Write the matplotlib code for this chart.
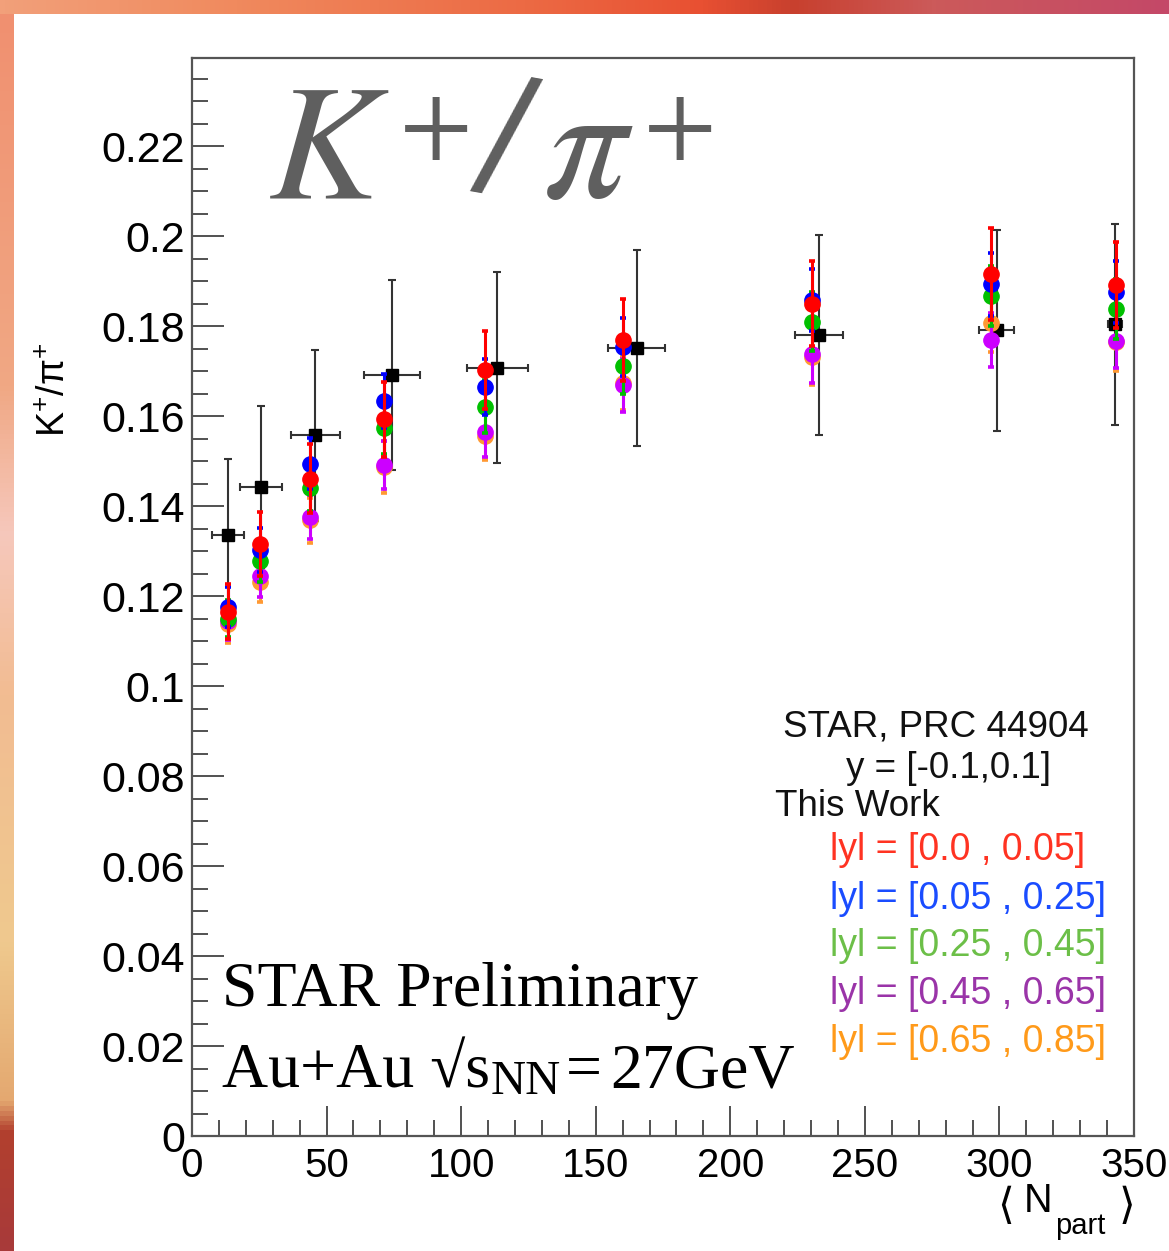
import numpy as np
import matplotlib
matplotlib.use("Agg")
import matplotlib.pyplot as plt
from matplotlib.colors import LinearSegmentedColormap
from matplotlib.ticker import MultipleLocator, FuncFormatter

# ---- STAR published K+/pi+ (|y| < 0.1) ----
star_npart = [13.5, 25.8, 45.8, 74.3, 113.5, 165.2, 233.0, 299.0, 343.0]
star_ratio = [0.1336, 0.1442, 0.1557, 0.1691, 0.1708, 0.1751, 0.1780, 0.1791, 0.1804]
star_yerr = [0.0168, 0.0180, 0.0190, 0.0211, 0.0213, 0.0218, 0.0222, 0.0223, 0.0224]
star_xerr = [5.9, 7.8, 9.2, 10.4, 11.4, 10.7, 8.9, 6.5, 2.5]

# ---- This work: rapidity bins ----
work_npart = [13.5, 25.3, 44.0, 71.3, 109.0, 160.3, 230.2, 297.0, 343.4]

y000_005 = [0.1165, 0.1316, 0.1461, 0.1593, 0.1702, 0.1770, 0.1850, 0.1916, 0.1891]
y000_005_err = [0.0061, 0.0071, 0.0077, 0.0083, 0.0087, 0.0091, 0.0094, 0.0103, 0.0096]

y005_025 = [0.1176, 0.1302, 0.1494, 0.1633, 0.1664, 0.1754, 0.1858, 0.1893, 0.1876]
y005_025_err = [0.0044, 0.0049, 0.0057, 0.0060, 0.0062, 0.0065, 0.0069, 0.0070, 0.0068]

y025_045 = [0.1150, 0.1278, 0.1441, 0.1573, 0.1621, 0.1712, 0.1810, 0.1867, 0.1838]
y025_045_err = [0.0042, 0.0046, 0.0052, 0.0057, 0.0059, 0.0062, 0.0065, 0.0067, 0.0066]

y045_065 = [0.1144, 0.1244, 0.1376, 0.1491, 0.1565, 0.1669, 0.1738, 0.1770, 0.1768]
y045_065_err = [0.0042, 0.0046, 0.0049, 0.0053, 0.0055, 0.0059, 0.0065, 0.0060, 0.0060]

y065_085 = [0.1138, 0.1232, 0.1369, 0.1487, 0.1556, 0.1673, 0.1732, 0.1807, 0.1765]
y065_085_err = [0.0042, 0.0045, 0.0050, 0.0057, 0.0054, 0.0060, 0.0063, 0.0064, 0.0064]

bin_labels = ["lyl = [0.0 , 0.05]", "lyl = [0.05 , 0.25]", "lyl = [0.25 , 0.45]",
              "lyl = [0.45 , 0.65]", "lyl = [0.65 , 0.85]"]

plt.rcParams["font.family"] = ["Liberation Sans", "DejaVu Sans"]
plt.rcParams["mathtext.rm"] = "Liberation Sans"
plt.rcParams["mathtext.it"] = "Liberation Sans:italic"
plt.rcParams["mathtext.bf"] = "Liberation Sans:bold"

W, H = 1169, 1251
fig = plt.figure(figsize=(W / 100, H / 100), dpi=100)

# ---- painted border behind the white panel ----
bg = fig.add_axes([0, 0, 1, 1], zorder=-10)
bg.set_xlim(0, W)
bg.set_ylim(H, 0)
bg.axis("off")
top_cmap = LinearSegmentedColormap.from_list("top", [
    (0.00, "#f2a07a"), (0.20, "#f08a5e"), (0.45, "#ec6a44"),
    (0.60, "#e85032"), (0.68, "#c8402e"), (0.80, "#cc5a5a"), (1.00, "#c44868")])
left_cmap = LinearSegmentedColormap.from_list("left", [
    (0.00, "#f09070"), (0.30, "#f0a884"), (0.42, "#f6c8bc"), (0.55, "#f2bc92"),
    (0.75, "#efc98e"), (0.88, "#e4a870"), (0.905, "#b2402e"), (1.00, "#a83a3a")])
bg.imshow(np.linspace(0, 1, 256)[None, :], cmap=top_cmap, aspect="auto",
          extent=(0, W, 14, 0))
bg.imshow(np.linspace(0, 1, 256)[:, None], cmap=left_cmap, aspect="auto",
          extent=(0, 14, H, 14))
bg.add_patch(plt.Rectangle((14, 14), W - 14, H - 14, facecolor="white", edgecolor="none"))

# ---- main frame ----
x0, x1, yt, yb = 192, 1134, 58, 1136
ax = fig.add_axes([x0 / W, 1 - yb / H, (x1 - x0) / W, (yb - yt) / H])
ax.set_xlim(0, 350)
ax.set_ylim(0, 0.2396)
for s in ax.spines.values():
    s.set_color("#555555")
    s.set_linewidth(1.6)

ax.xaxis.set_major_locator(MultipleLocator(50))
ax.xaxis.set_minor_locator(MultipleLocator(10))
ax.yaxis.set_major_locator(MultipleLocator(0.02))
ax.yaxis.set_minor_locator(MultipleLocator(0.005))
ax.yaxis.set_major_formatter(FuncFormatter(lambda v, p: f"{v:g}"))
ax.tick_params(axis="both", which="both", direction="in", color="#222222", width=1.1,
               top=False, right=False)
ax.tick_params(axis="y", which="major", length=23, labelsize=31, pad=5)
ax.tick_params(axis="y", which="minor", length=11.5)
ax.tick_params(axis="x", which="major", length=21.5, labelsize=29, pad=8)
ax.tick_params(axis="x", which="minor", length=11.5)

# STAR reference points
ax.errorbar(star_npart, star_ratio, xerr=star_xerr, yerr=star_yerr, fmt="s", ms=8,
            color="black", ecolor="#333333", elinewidth=1.5, capsize=2.8, capthick=1.5,
            zorder=2)

series = [
    (y065_085, y065_085_err, "#ff9933", 3),
    (y045_065, y045_065_err, "#cc00ff", 4),
    (y025_045, y025_045_err, "#00c000", 5),
    (y005_025, y005_025_err, "#0000ff", 6),
    (y000_005, y000_005_err, "#ff0000", 7),
]
for vals, errs, col, z in series:
    ax.errorbar(work_npart, vals, yerr=errs, fmt="o", ms=11, color=col, mec=col,
                elinewidth=2.2, capsize=2.5, capthick=2.6, zorder=z)

# ---- texts ----
def fx(px):
    return px / W

def fy(py):
    return 1 - py / H

# big ratio title, set piece by piece
title_gray = "#5f5f5f"
fig.text(fx(329), fy(197), r"$K$", fontsize=119, color=title_gray,
         ha="center", va="baseline", math_fontfamily="stix")
fig.text(fx(434), fy(127), r"$+$", fontsize=76, color=title_gray,
         ha="center", va="center", math_fontfamily="stix")
fig.text(fx(505), fy(149), r"$/$", fontsize=128, color=title_gray, rotation=-10,
         ha="center", va="center", math_fontfamily="stix")
fig.text(fx(588), fy(197), r"$\pi$", fontsize=119, color=title_gray,
         ha="center", va="baseline", math_fontfamily="stix")
fig.text(fx(678), fy(127), r"$+$", fontsize=76, color=title_gray,
         ha="center", va="center", math_fontfamily="stix")

# collision system labels
serif = ["Liberation Serif", "DejaVu Serif"]
fig.text(fx(222), fy(1006), "STAR Preliminary", family=serif, fontsize=46,
         ha="left", va="baseline", color="black")
renderer = fig.canvas.get_renderer()
t1 = fig.text(fx(222), fy(1087), "Au+Au √s", family=serif, fontsize=46,
              ha="left", va="baseline", color="black")
bb = t1.get_window_extent(renderer)
t2 = fig.text(bb.x1 / W + fx(1), fy(1094), "NN", family=serif, fontsize=35,
              ha="left", va="baseline", color="black")
bb2 = t2.get_window_extent(renderer)
t3 = fig.text(bb2.x1 / W + fx(5), fy(1087), "=", family=serif, fontsize=46,
              ha="left", va="baseline", color="black")
bb3 = t3.get_window_extent(renderer)
fig.text(bb3.x1 / W + fx(8), fy(1087), "27GeV", family=serif, fontsize=46,
         ha="left", va="baseline", color="black")

# axis titles
fig.text(fx(55), fy(390), r"K$^{+}$/π$^{+}$", rotation=90, fontsize=27,
         ha="center", va="center", math_fontfamily="custom")
fig.text(fx(1006), fy(1206), "⟨", family=["DejaVu Sans"], fontsize=31,
         ha="center", va="center", color="black")
fig.text(fx(1024), fy(1212), "N", fontsize=28.5, ha="left", va="baseline")
fig.text(fx(1055), fy(1234), "part", fontsize=21, ha="left", va="baseline")
fig.text(fx(1127), fy(1206), "⟩", family=["DejaVu Sans"], fontsize=31,
         ha="center", va="center", color="black")

# legend block
fig.text(fx(936), fy(727), "STAR, PRC 44904", fontsize=26.5, ha="center", va="center",
         color="#111111")
fig.text(fx(948), fy(769), "y = [-0.1,0.1]", fontsize=26.5, ha="center", va="center",
         color="#111111")
fig.text(fx(775), fy(806), "This Work", fontsize=26.5, ha="left", va="center",
         color="#111111")

label_colors = ["#ff3322", "#1a4cff", "#6cbf48", "#9a34a8", "#ff9a1a"]
label_rows = [850, 899, 946, 994, 1042]
for txt, col, row in zip(bin_labels, label_colors, label_rows):
    fig.text(fx(830), fy(row), txt, fontsize=27, ha="left", va="center", color=col)

fig.savefig("out.png", dpi=100)
